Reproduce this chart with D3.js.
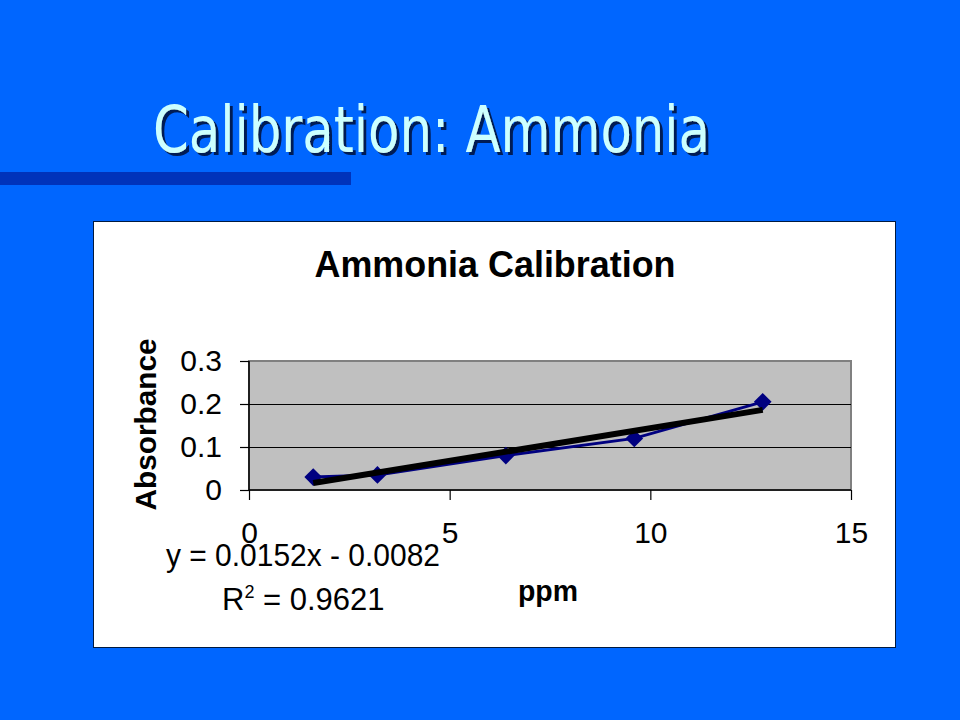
<!DOCTYPE html>
<html>
<head>
<meta charset="utf-8">
<script src="https://cdn.jsdelivr.net/npm/d3@7"></script>
<style>
  html, body { margin: 0; padding: 0; background: #0066FF; }
  svg { display: block; }
</style>
</head>
<body>
<svg id="chart" width="960" height="720"></svg>
<script>
// ---- data ----
const ppm = [1.6, 3.2, 6.4, 9.6, 12.8];
const absorbance = [0.03, 0.035, 0.08, 0.12, 0.205];
const xTicks = [0, 5, 10, 15];
const yTicks = [0, 0.1, 0.2, 0.3];
const trendSlope = 0.0152;
const trendIntercept = -0.0082;
const rSquared = "0.9621";
const slideTitle = "Calibration: Ammonia";
const chartTitle = "Ammonia Calibration";
const xTitle = "ppm";
const yTitle = "Absorbance";

const svg = d3.select("#chart");
const defs = svg.append("defs");
const f = defs.append("filter").attr("id", "shadow").attr("x", "-5%").attr("y", "-20%").attr("width", "115%").attr("height", "150%");
f.append("feDropShadow").attr("dx", 3).attr("dy", 3).attr("stdDeviation", 0.6)
  .attr("flood-color", "#001a55").attr("flood-opacity", 1);

// slide background
svg.append("rect").attr("x", 0).attr("y", 0).attr("width", 960).attr("height", 720).attr("fill", "#0066FF");
svg.append("rect").attr("x", 0).attr("y", 172).attr("width", 351).attr("height", 13).attr("fill", "#0033BB");

// slide title with shadow
svg.append("text")
  .attr("x", 153).attr("y", 152)
  .attr("font-family", "'DejaVu Sans Condensed', 'DejaVu Sans', sans-serif")
  .attr("font-size", 64)
  .attr("textLength", 557).attr("lengthAdjust", "spacingAndGlyphs")
  .attr("fill", "#CCFFFF").attr("filter", "url(#shadow)").text(slideTitle);

// chart box
svg.append("rect").attr("x", 93.5).attr("y", 221.5).attr("width", 802).attr("height", 426)
  .attr("fill", "#FFFFFF").attr("stroke", "#001a40").attr("stroke-width", 1);

const font = "'Liberation Sans', Arial, sans-serif";
svg.append("text").attr("x", 495).attr("y", 277).attr("text-anchor", "middle")
  .attr("font-family", font).attr("font-weight", "bold")
  .attr("font-size", 37).attr("textLength", 361).attr("lengthAdjust", "spacingAndGlyphs")
  .attr("fill", "#000").text(chartTitle);

// plot area
const L = 249, R = 851, T = 361, B = 490;
const x = d3.scaleLinear().domain([0, 15]).range([L, R]);
const y = d3.scaleLinear().domain([0, 0.3]).range([B, T]);

svg.append("rect").attr("x", L).attr("y", T).attr("width", R - L).attr("height", B - T)
  .attr("fill", "#C0C0C0").attr("stroke", "#808080").attr("stroke-width", 2);

// gridlines
svg.append("g").selectAll("line").data(yTicks.filter(d => d > 0 && d < 0.3)).join("line")
  .attr("x1", L).attr("x2", R).attr("y1", d => Math.round(y(d)) + 0.5).attr("y2", d => Math.round(y(d)) + 0.5)
  .attr("stroke", "#000").attr("stroke-width", 1);

// axes
const yAxis = svg.append("g").attr("transform", `translate(${L},0)`)
  .call(d3.axisLeft(y).tickValues(yTicks).tickSize(9).tickPadding(18).tickFormat(d3.format("~g")));
const xAxis = svg.append("g").attr("transform", `translate(0,${B})`)
  .call(d3.axisBottom(x).tickValues(xTicks).tickSize(10).tickPadding(22).tickFormat(d3.format("d")));
[yAxis, xAxis].forEach(g => {
  g.select(".domain").attr("stroke", "#000").attr("stroke-width", 1.5);
  g.selectAll(".tick line").attr("stroke", "#000").attr("stroke-width", 1.2);
  g.selectAll(".tick text").attr("font-family", font).attr("font-size", 30).attr("fill", "#000");
});
yAxis.select(".domain").attr("d", `M0,${T}V${B}`);
xAxis.select(".domain").attr("d", `M${L},0H${R}`);
yAxis.selectAll(".tick text").attr("x", -27);

// axis titles
svg.append("text").attr("transform", `translate(156,${(T + B) / 2 - 1}) rotate(-90)`)
  .attr("text-anchor", "middle").attr("font-family", font).attr("font-weight", "bold")
  .attr("font-size", 30).attr("textLength", 172).attr("lengthAdjust", "spacingAndGlyphs")
  .attr("fill", "#000").text(yTitle);
svg.append("text").attr("x", 548).attr("y", 601).attr("text-anchor", "middle")
  .attr("font-family", font).attr("font-weight", "bold").attr("font-size", 29)
  .attr("textLength", 60).attr("lengthAdjust", "spacingAndGlyphs")
  .attr("fill", "#000").text(xTitle);

// data series
const pts = ppm.map((d, i) => [d, absorbance[i]]);
svg.append("path").datum(pts)
  .attr("d", d3.line().x(d => x(d[0])).y(d => y(d[1])))
  .attr("fill", "none").attr("stroke", "#000080").attr("stroke-width", 3);
svg.append("g").selectAll("path").data(pts).join("path")
  .attr("transform", d => `translate(${x(d[0])},${y(d[1])})`)
  .attr("d", d3.symbol(d3.symbolDiamond2, 200)())
  .attr("fill", "#000080");

// trendline
const xMin = d3.min(ppm), xMax = d3.max(ppm);
svg.append("line")
  .attr("x1", x(xMin)).attr("y1", y(trendSlope * xMin + trendIntercept))
  .attr("x2", x(xMax)).attr("y2", y(trendSlope * xMax + trendIntercept))
  .attr("stroke", "#000").attr("stroke-width", 6);

// equation labels
svg.append("text").attr("x", 166).attr("y", 566)
  .attr("font-family", font).attr("font-size", 31).attr("fill", "#000")
  .attr("textLength", 274).attr("lengthAdjust", "spacingAndGlyphs")
  .text(`y = ${trendSlope}x - ${Math.abs(trendIntercept).toFixed(4)}`);
const r2 = svg.append("text").attr("x", 222).attr("y", 610)
  .attr("font-family", font).attr("font-size", 31).attr("fill", "#000");
r2.append("tspan").text("R");
r2.append("tspan").attr("dy", -12).attr("font-size", 18).text("2");
r2.append("tspan").attr("dy", 12).text(` = ${rSquared}`);
</script>
</body>
</html>
